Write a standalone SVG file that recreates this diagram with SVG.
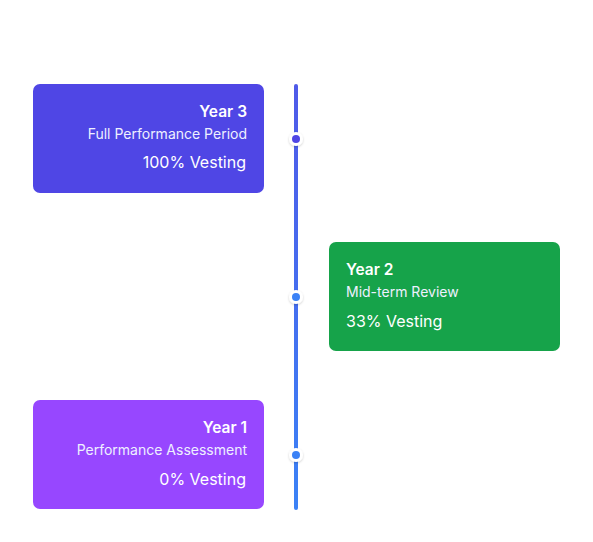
<svg xmlns="http://www.w3.org/2000/svg" width="593" height="542" viewBox="0 0 593 542">
<defs>
<linearGradient id="lg" x1="0" y1="0" x2="0" y2="1"><stop offset="0" stop-color="#4f5ae8"/><stop offset="1" stop-color="#3b82f6"/></linearGradient>
<filter id="sh" x="-50%" y="-50%" width="200%" height="200%"><feDropShadow dx="0" dy="1" stdDeviation="1.2" flood-color="#000" flood-opacity="0.2"/></filter>
</defs>
<style>
.t{font-family:Inter,"Liberation Sans",sans-serif;fill:#fff}
.h{font-size:15.5px;font-weight:600}
.s{font-size:14px;fill:#eef0ff}
.v{font-size:16px;font-weight:400}
.r{text-anchor:end}
</style>
<rect width="593" height="542" fill="#fff"/>
<g id="connectors">
<rect x="294" y="84" width="4" height="426" rx="2" fill="url(#lg)"/>
<circle cx="296" cy="139" r="7" fill="#fff" filter="url(#sh)"/>
<circle cx="296" cy="139" r="4" fill="#4f46e5"/>
<circle cx="296" cy="297" r="7" fill="#fff" filter="url(#sh)"/>
<circle cx="296" cy="297" r="4" fill="#3b82f6"/>
<circle cx="296" cy="455" r="7" fill="#fff" filter="url(#sh)"/>
<circle cx="296" cy="455" r="4" fill="#3b82f6"/>
</g>
<g id="year3">
<rect x="33" y="84" width="231" height="109" rx="7" fill="#4f46e5"/>
<text class="t h r" x="247" y="117">Year 3</text>
<text class="t s r" x="247" y="139">Full Performance Period</text>
<text class="t v r" x="246" y="168">100% Vesting</text>
</g>
<g id="year2">
<rect x="329" y="242" width="231" height="109" rx="7" fill="#16a34a"/>
<text class="t h" x="346" y="275">Year 2</text>
<text class="t s" x="346" y="297">Mid-term Review</text>
<text class="t v" x="346" y="327">33% Vesting</text>
</g>
<g id="year1">
<rect x="33" y="400" width="231" height="109" rx="7" fill="#9747ff"/>
<text class="t h r" x="247" y="433">Year 1</text>
<text class="t s r" x="247" y="455">Performance Assessment</text>
<text class="t v r" x="246" y="485">0% Vesting</text>
</g>
</svg>
